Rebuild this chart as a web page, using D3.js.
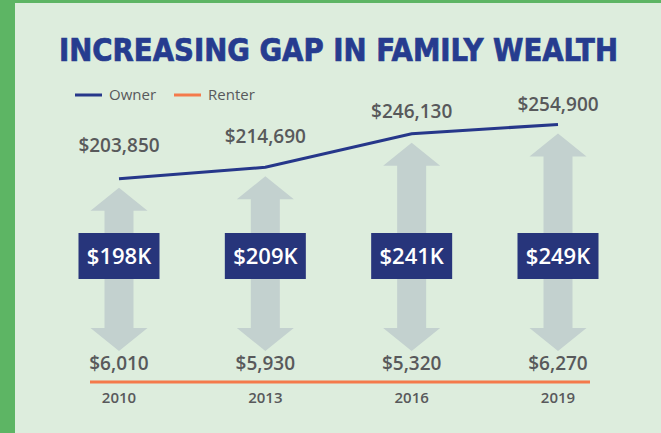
<!DOCTYPE html>
<html>
<head>
<meta charset="utf-8">
<script src="https://cdn.jsdelivr.net/npm/d3@7"></script>
<style>
  body { margin: 0; background: #5db564; }
  #viz svg { display: block; }
</style>
</head>
<body>
<div id="viz"></div>
<script>
let years = [2010, 2013, 2016, 2019],
    ownerValues = [203850, 214690, 246130, 254900],
    renterValues = [6010, 5930, 5320, 6270],
    gapLabels = ['$198K', '$209K', '$241K', '$249K'],
    seriesNames = ['Owner', 'Renter'],
    seriesColors = ['#26378a', '#f47a4b'],
    title = 'INCREASING GAP IN FAMILY WEALTH';

let width = 661,
    height = 433,
    textGrey = '#58595b',
    arrowColor = '#c3d1cf',
    boxColor = '#27357b';

let fmt = d3.format('$,');

let svg = d3.select('#viz').append('svg')
  .attr('width', width)
  .attr('height', height);

// panel
svg.append('rect')
  .attr('x', 15)
  .attr('y', 3)
  .attr('width', width - 15)
  .attr('height', height - 3)
  .attr('fill', '#ddeddd');

svg.append('text')
  .attr('x', 338.5)
  .attr('y', 61)
  .attr('text-anchor', 'middle')
  .attr('textLength', 559)
  .attr('lengthAdjust', 'spacingAndGlyphs')
  .style('font-family', '"Liberation Sans Narrow", "DejaVu Sans Condensed", "Liberation Sans", sans-serif')
  .style('font-weight', 'bold')
  .style('font-size', '32px')
  .style('fill', '#263c8f')
  .style('stroke', '#263c8f')
  .style('stroke-width', 0.7)
  .text(title);

// legend
let legend = svg.append('g')
  .attr('transform', 'translate(75,95)')
  .selectAll('g').data(seriesNames)
  .enter().append('g')
  .attr('transform', function(d, i) {
    return 'translate(' + (i * 99) + ',0)';
  });

legend.append('line')
  .attr('x1', 0).attr('x2', 27)
  .attr('y1', 0).attr('y2', 0)
  .attr('stroke', function(d, i) { return seriesColors[i]; })
  .attr('stroke-width', 3);

legend.append('text')
  .attr('x', 34)
  .attr('y', 5)
  .style('font-family', '"Open Sans", sans-serif')
  .style('font-size', '15px')
  .style('fill', textGrey)
  .text(function(d) { return d; });

// scales
let xScale = d3.scalePoint()
  .domain(years)
  .range([119, 558]);

let yScale = d3.scaleLinear()
  .domain([200000, 260000])
  .range([182.9, 119.0]);

let labelY = d3.scaleLinear()
  .domain([200000, 260000])
  .range([155, 107]);

let baseY = 382,
    arrowBottom = 351,
    headH = 23,
    headW = 57,
    shaftW = 29;

// arrows
svg.append('g')
  .selectAll('path').data(ownerValues)
  .enter().append('path')
  .attr('fill', arrowColor)
  .attr('d', function(d, i) {
    let cx = xScale(years[i]),
        top = yScale(d) + 9,
        b = arrowBottom;
    return 'M' + cx + ',' + top +
      'L' + (cx + headW / 2) + ',' + (top + headH) +
      'L' + (cx + shaftW / 2) + ',' + (top + headH) +
      'L' + (cx + shaftW / 2) + ',' + (b - headH) +
      'L' + (cx + headW / 2) + ',' + (b - headH) +
      'L' + cx + ',' + b +
      'L' + (cx - headW / 2) + ',' + (b - headH) +
      'L' + (cx - shaftW / 2) + ',' + (b - headH) +
      'L' + (cx - shaftW / 2) + ',' + (top + headH) +
      'L' + (cx - headW / 2) + ',' + (top + headH) + 'Z';
  });

// owner line
let line = d3.line()
  .x(function(d, i) { return xScale(years[i]); })
  .y(function(d) { return yScale(d); });

svg.append('path')
  .datum(ownerValues)
  .attr('fill', 'none')
  .attr('stroke', seriesColors[0])
  .attr('stroke-width', 3)
  .attr('d', line);

// renter line (drawn flat along the base)
svg.append('line')
  .attr('x1', xScale(years[0]) - 29)
  .attr('x2', xScale(years[years.length - 1]) + 32)
  .attr('y1', baseY)
  .attr('y2', baseY)
  .attr('stroke', seriesColors[1])
  .attr('stroke-width', 3);

// owner value labels
svg.append('g')
  .selectAll('text').data(ownerValues)
  .enter().append('text')
  .attr('x', function(d, i) { return xScale(years[i]); })
  .attr('y', function(d) { return labelY(d); })
  .attr('text-anchor', 'middle')
  .style('font-family', '"Open Sans", sans-serif')
  .style('font-weight', 600)
  .style('font-size', '19px')
  .style('fill', textGrey)
  .text(function(d) { return fmt(d); });

// renter value labels
svg.append('g')
  .selectAll('text').data(renterValues)
  .enter().append('text')
  .attr('x', function(d, i) { return xScale(years[i]); })
  .attr('y', 370)
  .attr('text-anchor', 'middle')
  .style('font-family', '"Open Sans", sans-serif')
  .style('font-weight', 600)
  .style('font-size', '19px')
  .style('fill', textGrey)
  .text(function(d) { return fmt(d); });

// gap boxes
let boxes = svg.append('g')
  .selectAll('g').data(gapLabels)
  .enter().append('g')
  .attr('transform', function(d, i) {
    return 'translate(' + xScale(years[i]) + ',256)';
  });

boxes.append('rect')
  .attr('x', -40.5)
  .attr('y', -23)
  .attr('width', 81)
  .attr('height', 46)
  .attr('fill', boxColor);

boxes.append('text')
  .attr('y', 8)
  .attr('text-anchor', 'middle')
  .style('font-family', '"Open Sans", sans-serif')
  .style('font-weight', 600)
  .style('font-size', '22px')
  .style('fill', '#ffffff')
  .text(function(d) { return d; });

// x axis labels
svg.append('g')
  .selectAll('text').data(years)
  .enter().append('text')
  .attr('x', function(d) { return xScale(d); })
  .attr('y', 403)
  .attr('text-anchor', 'middle')
  .style('font-family', '"Open Sans", sans-serif')
  .style('font-weight', 600)
  .style('font-size', '15px')
  .style('fill', textGrey)
  .text(function(d) { return d; });
</script>
</body>
</html>
